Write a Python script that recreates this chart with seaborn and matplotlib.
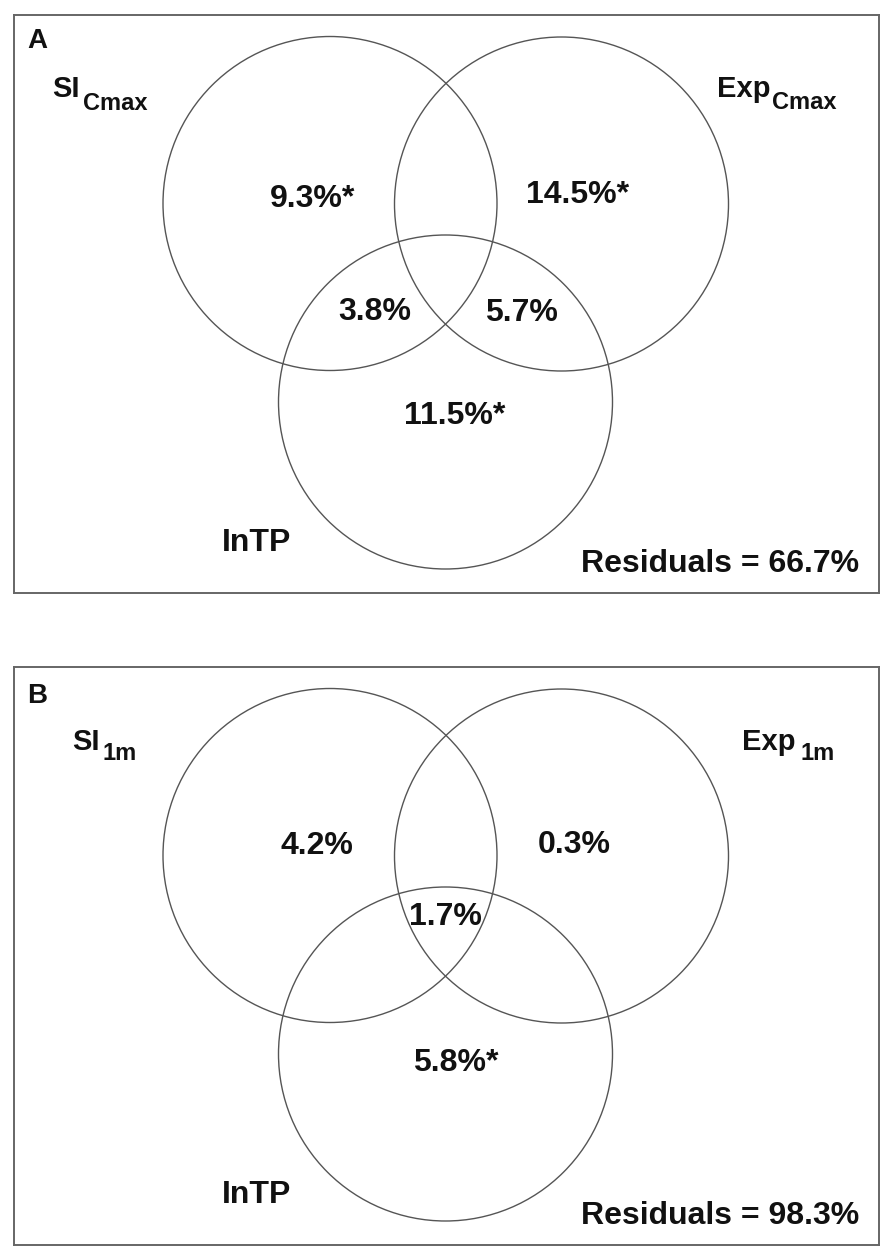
import matplotlib
matplotlib.use("Agg")
import matplotlib.pyplot as plt
from matplotlib.patches import Circle
import seaborn as sns

# variance partitioning results (percent explained)
panel_tags = ["A", "B"]
set_names = ["SI", "Exp"]
subscripts = ["Cmax", "1m"]
regions_a = ["SI", "Exp", "SI_InTP", "Exp_InTP", "InTP"]
values_a = [9.3, 14.5, 3.8, 5.7, 11.5]
signif_a = [True, True, False, False, True]
regions_b = ["SI", "Exp", "All", "InTP"]
values_b = [4.2, 0.3, 1.7, 5.8]
signif_b = [False, False, False, True]
residuals = [66.7, 98.3]

# layout (pixels inside each frame, y down)
W, H = 865, 578
centres = {"SI": (316, 188.5), "Exp": (547.5, 189), "InTP": (431.5, 387)}
R = 167
label_pos = [
    {"SI": (299, 184), "Exp": (564, 180), "SI_InTP": (361, 297),
     "Exp_InTP": (507, 298), "InTP": (441, 401)},
    {"SI": (303, 179), "Exp": (560, 178), "All": (431, 250),
     "InTP": (442, 396)},
]
# (main x, main baseline, sub x, sub baseline) for SI and Exp
name_pos = [
    [(38, 82, 69, 95), (703, 82, 758, 94)],
    [(58, 83, 89, 93), (728, 83, 786, 93)],
]

sns.set_theme(style="white")
plt.rcParams["font.family"] = ["Liberation Sans", "DejaVu Sans"]

fig = plt.figure(figsize=(8.86, 12.55), dpi=100)
tops = [15, 667]
txt = "#111111"

data = [(regions_a, values_a, signif_a), (regions_b, values_b, signif_b)]

for i, top in enumerate(tops):
    ax = fig.add_axes([14 / 886, 1 - (top + H) / 1255, W / 886, H / 1255])
    ax.set_xlim(0, W)
    ax.set_ylim(H, 0)
    ax.set_xticks([])
    ax.set_yticks([])
    for s in ax.spines.values():
        s.set_color("#666666")
        s.set_linewidth(1.4)

    for name, (cx, cy) in centres.items():
        ax.add_patch(Circle((cx, cy), R, fill=False, ec="#555555", lw=1.0))

    regs, vals, sig = data[i]
    for reg, v, s in zip(regs, vals, sig):
        x, y = label_pos[i][reg]
        ax.text(x, y, f"{v:.1f}%" + ("*" if s else ""), ha="center",
                va="center", fontsize=23, fontweight="bold", color=txt)

    ax.text(13, 13 + (3 if i else 0), panel_tags[i], ha="left", va="top",
            fontsize=20, fontweight="bold", color=txt)

    for name, (mx, my, sx, sy) in zip(set_names, name_pos[i]):
        ax.text(mx, my, name, ha="left", va="baseline", fontsize=21,
                fontweight="bold", color=txt)
        ax.text(sx, sy, subscripts[i], ha="left", va="baseline", fontsize=17,
                fontweight="bold", color=txt)

    ax.text(243, 528, "InTP", ha="center", va="center",
            fontsize=23, fontweight="bold", color=txt)
    ax.text(845, 557, f"Residuals = {residuals[i]:.1f}%", ha="right",
            va="baseline", fontsize=23, fontweight="bold", color=txt)

fig.savefig("out.png", dpi=100, facecolor="white")
